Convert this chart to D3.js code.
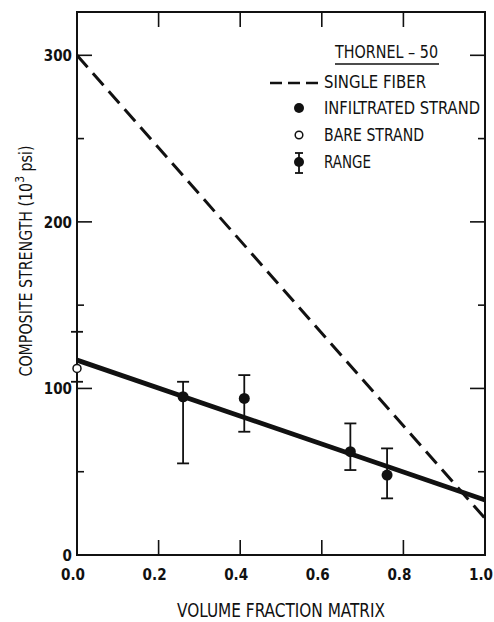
<!DOCTYPE html>
<html>
<head>
<meta charset="utf-8">
<script src="https://cdn.jsdelivr.net/npm/d3@7"></script>
<style>
  body { margin: 0; background: #fff; }
  svg { display: block; }
  text { font-family: "DejaVu Sans Condensed", "Liberation Sans Narrow", sans-serif; fill: #111; }
  .tick-label { font-size: 15px; font-weight: bold; }
  .legend text { font-size: 17px; }
</style>
</head>
<body>
<div class="chart"></div>
<script>
// data
const fractions = [0.0, 0.26, 0.41, 0.67, 0.76];
const infiltrated = [null, 95, 94, 62, 48];
const rangeLow = [104, 55, 74, 51, 34];
const rangeHigh = [134, 104, 108, 79, 64];
const bareFraction = [0.0];
const bareStrand = [112];
const singleFiber = [[0, 300], [1, 22]];
const fitLine = [[0, 117], [1, 33]];
const xTicks = [0, 0.2, 0.4, 0.6, 0.8, 1.0];
const yTicks = [0, 100, 200, 300];
const yMinorTicks = [50, 150, 250];

const width = 494;
const height = 622;

const svg = d3.select(".chart")
  .append("svg")
    .attr("width", width)
    .attr("height", height);

const x = d3.scaleLinear().domain([0, 1]).range([77, 485]);
const y = d3.scaleLinear().domain([0, 326]).range([555, 12]);

// frame
svg.append("rect")
  .attr("x", x(0))
  .attr("y", y(326))
  .attr("width", x(1) - x(0))
  .attr("height", y(0) - y(326))
  .attr("fill", "none")
  .attr("stroke", "#111")
  .attr("stroke-width", 2);

// ticks, all pointing inwards
const major = 15, minor = 7;
const tickG = svg.append("g").attr("stroke", "#111").attr("stroke-width", 1.6);
xTicks.slice(1, -1).forEach(t => {
  tickG.append("line").attr("x1", x(t)).attr("x2", x(t)).attr("y1", y(0)).attr("y2", y(0) - major);
  tickG.append("line").attr("x1", x(t)).attr("x2", x(t)).attr("y1", y(326)).attr("y2", y(326) + major);
});
yTicks.slice(1).forEach(t => {
  tickG.append("line").attr("x1", x(0)).attr("x2", x(0) + major).attr("y1", y(t)).attr("y2", y(t));
  tickG.append("line").attr("x1", x(1)).attr("x2", x(1) - major).attr("y1", y(t)).attr("y2", y(t));
});
yMinorTicks.forEach(t => {
  tickG.append("line").attr("x1", x(0)).attr("x2", x(0) + minor).attr("y1", y(t)).attr("y2", y(t));
  tickG.append("line").attr("x1", x(1)).attr("x2", x(1) - minor).attr("y1", y(t)).attr("y2", y(t));
});

// tick labels
svg.selectAll(".xlab")
  .data(xTicks)
  .enter()
  .append("text")
    .attr("class", "tick-label")
    .attr("x", d => x(d) - 4)
    .attr("y", 580)
    .attr("text-anchor", "middle")
    .attr("font-size", 16)
    .attr("textLength", 24)
    .attr("lengthAdjust", "spacingAndGlyphs")
    .text(d => d3.format(".1f")(d));

svg.selectAll(".ylab")
  .data(yTicks)
  .enter()
  .append("text")
    .attr("class", "tick-label")
    .attr("x", x(0) - 5)
    .attr("y", d => y(d) + 6)
    .attr("text-anchor", "end")
    .text(d => d);

// axis titles
svg.append("text")
  .attr("x", 177)
  .attr("y", 617)
  .attr("font-size", 19)
  .attr("textLength", 208)
  .attr("lengthAdjust", "spacingAndGlyphs")
  .text("VOLUME FRACTION MATRIX");

const yTitle = svg.append("text")
  .attr("transform", "translate(32, 261) rotate(-90) scale(0.93, 1)")
  .attr("font-size", 17)
  .attr("text-anchor", "middle");
yTitle.append("tspan").text("COMPOSITE STRENGTH (10");
yTitle.append("tspan").attr("dy", -8).attr("font-size", 13).text("3");
yTitle.append("tspan").attr("dy", 8).text(" psi)");

// lines
const line = d3.line().x(d => x(d[0])).y(d => y(d[1]));

svg.append("path")
  .datum(singleFiber)
  .attr("d", line)
  .attr("fill", "none")
  .attr("stroke", "#111")
  .attr("stroke-width", 3)
  .attr("stroke-dasharray", "16,8");

svg.append("path")
  .datum(fitLine)
  .attr("d", line)
  .attr("fill", "none")
  .attr("stroke", "#111")
  .attr("stroke-width", 4.8);

// range bars
const rangeData = fractions.map((f, i) => ({f, lo: rangeLow[i], hi: rangeHigh[i]}));
const bars = svg.selectAll(".range")
  .data(rangeData)
  .enter()
  .append("g")
  .attr("stroke", "#111")
  .attr("stroke-width", 1.8);
bars.append("line").attr("x1", d => x(d.f)).attr("x2", d => x(d.f)).attr("y1", d => y(d.lo)).attr("y2", d => y(d.hi));
bars.append("line").attr("x1", d => x(d.f) - 6).attr("x2", d => x(d.f) + 6).attr("y1", d => y(d.lo)).attr("y2", d => y(d.lo));
bars.append("line").attr("x1", d => x(d.f) - 6).attr("x2", d => x(d.f) + 6).attr("y1", d => y(d.hi)).attr("y2", d => y(d.hi));

// points
svg.selectAll(".infil")
  .data(fractions.map((f, i) => ({f, v: infiltrated[i]})).filter(d => d.v !== null))
  .enter()
  .append("circle")
    .attr("cx", d => x(d.f))
    .attr("cy", d => y(d.v))
    .attr("r", 5.5)
    .attr("fill", "#111");

svg.selectAll(".bare")
  .data(bareFraction.map((f, i) => ({f, v: bareStrand[i]})))
  .enter()
  .append("circle")
    .attr("cx", d => x(d.f))
    .attr("cy", d => y(d.v))
    .attr("r", 4)
    .attr("fill", "#fff")
    .attr("stroke", "#111")
    .attr("stroke-width", 1.5);

// legend
const legend = svg.append("g").attr("class", "legend");
const legendText = (tx, ty, len, s) => legend.append("text")
  .attr("x", tx).attr("y", ty)
  .attr("textLength", len).attr("lengthAdjust", "spacingAndGlyphs")
  .text(s);

legendText(335, 58, 103, "THORNEL \u2013 50");
legend.append("line").attr("x1", 335).attr("x2", 439).attr("y1", 64).attr("y2", 64)
  .attr("stroke", "#111").attr("stroke-width", 1.5);

legend.append("line").attr("x1", 270).attr("x2", 320).attr("y1", 83).attr("y2", 83)
  .attr("stroke", "#111").attr("stroke-width", 2.6).attr("stroke-dasharray", "12,6");
legendText(324, 88, 102, "SINGLE FIBER");

legend.append("circle").attr("cx", 299).attr("cy", 108).attr("r", 5).attr("fill", "#111");
legendText(324, 114, 156, "INFILTRATED STRAND");

legend.append("circle").attr("cx", 299).attr("cy", 135).attr("r", 3.8)
  .attr("fill", "#fff").attr("stroke", "#111").attr("stroke-width", 1.5);
legendText(324, 141, 100, "BARE STRAND");

const lr = legend.append("g").attr("stroke", "#111").attr("stroke-width", 1.8);
lr.append("line").attr("x1", 299).attr("x2", 299).attr("y1", 153).attr("y2", 173);
lr.append("line").attr("x1", 295).attr("x2", 303).attr("y1", 153).attr("y2", 153);
lr.append("line").attr("x1", 295).attr("x2", 303).attr("y1", 173).attr("y2", 173);
legend.append("circle").attr("cx", 299).attr("cy", 162).attr("r", 5).attr("fill", "#111");
legendText(324, 168, 47, "RANGE");
</script>
</body>
</html>
